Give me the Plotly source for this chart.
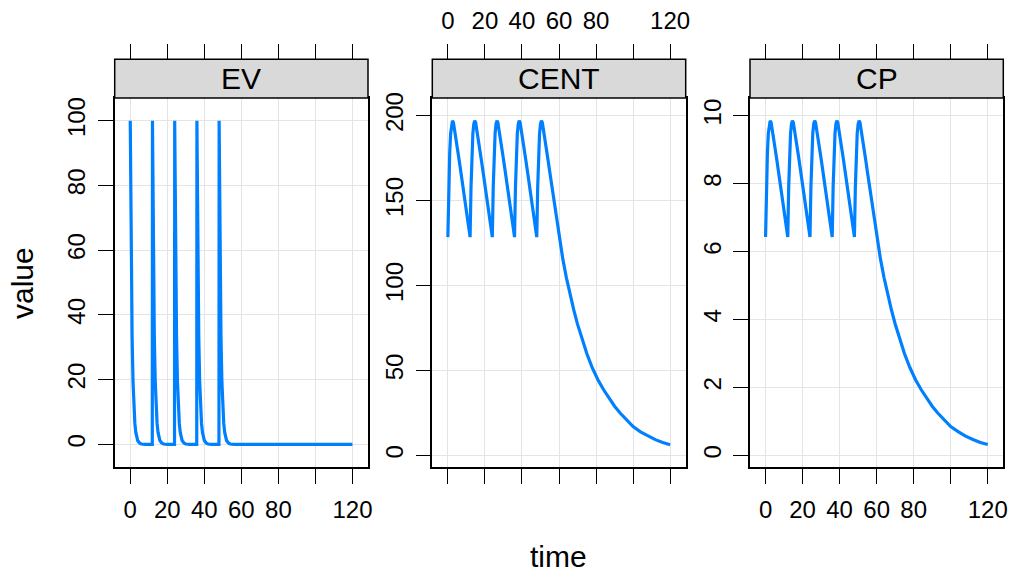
import plotly.graph_objects as go

# ---------------- data ----------------
panels = ["EV", "CENT", "CP"]

ev_time = [
    0, 0.5, 1, 1.5, 2, 2.5, 3, 4, 5, 6, 8, 11.9,
    12, 12.5, 13, 13.5, 14, 14.5, 15, 16, 17, 18, 20, 23.9,
    24, 24.5, 25, 25.5, 26, 26.5, 27, 28, 29, 30, 32, 35.9,
    36, 36.5, 37, 37.5, 38, 38.5, 39, 40, 41, 42, 44, 47.9,
    48, 48.5, 49, 49.5, 50, 50.5, 51, 52, 53, 54, 56, 60, 80, 100, 120,
]
ev_value = [
    100, 57.7, 33.3, 19.2, 11.1, 6.4, 3.7, 1.2, 0.4, 0.1, 0, 0,
    100, 57.7, 33.3, 19.2, 11.1, 6.4, 3.7, 1.2, 0.4, 0.1, 0, 0,
    100, 57.7, 33.3, 19.2, 11.1, 6.4, 3.7, 1.2, 0.4, 0.1, 0, 0,
    100, 57.7, 33.3, 19.2, 11.1, 6.4, 3.7, 1.2, 0.4, 0.1, 0, 0,
    100, 57.7, 33.3, 19.2, 11.1, 6.4, 3.7, 1.2, 0.4, 0.1, 0, 0, 0, 0, 0,
]

cent_time = [
    0, 0.5, 1, 1.5, 2, 2.5, 3, 4, 5, 6, 7, 8, 9, 10, 11,
    12, 12.5, 13, 13.5, 14, 14.5, 15, 16, 17, 18, 19, 20, 21, 22, 23,
    24, 24.5, 25, 25.5, 26, 26.5, 27, 28, 29, 30, 31, 32, 33, 34, 35,
    36, 36.5, 37, 37.5, 38, 38.5, 39, 40, 41, 42, 43, 44, 45, 46, 47,
    48, 48.5, 49, 49.5, 50, 50.5, 51, 52, 53, 54, 55, 56, 57, 58, 59,
    60, 61, 62, 64, 66, 68, 70, 72, 75, 78, 81, 84, 87, 90, 93, 96,
    100, 104, 108, 112, 116, 120,
]
cent_value = [
    128.5, 158, 178, 189.5, 195, 197, 196, 189.5, 182, 174.5, 167, 159.5, 152, 144.5, 136.5,
    128.5, 158, 178, 189.5, 195, 197, 196, 189.5, 182, 174.5, 167, 159.5, 152, 144.5, 136.5,
    128.5, 158, 178, 189.5, 195, 197, 196, 189.5, 182, 174.5, 167, 159.5, 152, 144.5, 136.5,
    128.5, 158, 178, 189.5, 195, 197, 196, 189.5, 182, 174.5, 167, 159.5, 152, 144.5, 136.5,
    128.5, 158, 178, 189.5, 195, 197, 196, 189.5, 182, 174.5, 167, 159.5, 152, 144.5, 136.5,
    128.5, 122, 116, 104.5, 94.5, 85.5, 77.3, 70, 60, 51.5, 44.6, 38.8, 33.5, 29, 25, 21.3,
    17, 13.9, 11.4, 9.3, 7.6, 6.3,
]

cp_time = cent_time
cp_value = [
    6.43, 7.9, 8.9, 9.48, 9.75, 9.85, 9.8, 9.48, 9.1, 8.73, 8.35, 7.98, 7.6, 7.23, 6.83,
    6.43, 7.9, 8.9, 9.48, 9.75, 9.85, 9.8, 9.48, 9.1, 8.73, 8.35, 7.98, 7.6, 7.23, 6.83,
    6.43, 7.9, 8.9, 9.48, 9.75, 9.85, 9.8, 9.48, 9.1, 8.73, 8.35, 7.98, 7.6, 7.23, 6.83,
    6.43, 7.9, 8.9, 9.48, 9.75, 9.85, 9.8, 9.48, 9.1, 8.73, 8.35, 7.98, 7.6, 7.23, 6.83,
    6.43, 7.9, 8.9, 9.48, 9.75, 9.85, 9.8, 9.48, 9.1, 8.73, 8.35, 7.98, 7.6, 7.23, 6.83,
    6.43, 6.1, 5.8, 5.23, 4.73, 4.28, 3.87, 3.5, 3.0, 2.58, 2.23, 1.94, 1.68, 1.45, 1.25, 1.07,
    0.85, 0.7, 0.57, 0.47, 0.38, 0.32,
]

x_tickvals = [0, 20, 40, 60, 80, 100, 120]
x_ticktext = ["0", "20", "40", "60", "80", "", "120"]
y_ticks = [
    [0, 20, 40, 60, 80, 100],
    [0, 50, 100, 150, 200],
    [0, 2, 4, 6, 8, 10],
]
y_ranges = [[-7, 107], [-6.8, 210.4], [-0.34, 10.52]]
x_range = [-8.4, 128.4]

# ---------------- layout geometry ----------------
W, H = 1011, 575
px = lambda v: v / W
py = lambda v: 1 - v / H
x_domains = [[px(114.7), px(368.0)], [px(432.3), px(685.7)], [px(750.0), px(1003.3)]]
plot_top, plot_bot, strip_top = 98.0, 467.0, 59.3
y_domain = [py(plot_bot), py(plot_top)]

FONT = "Liberation Sans, Arial, Helvetica, sans-serif"
LINE_COL = "#0080ff"
GRID_COL = "#e4e4e4"
TICK_FS = 24
BIG_FS = 30

fig = go.Figure()
series = [(ev_time, ev_value), (cent_time, cent_value), (cp_time, cp_value)]
for i, (t, v) in enumerate(series):
    k = "" if i == 0 else str(i + 1)
    fig.add_trace(go.Scatter(
        x=t, y=v, mode="lines", xaxis="x" + k, yaxis="y" + k,
        line=dict(color=LINE_COL, width=3.2), showlegend=False, hoverinfo="skip",
    ))
    # same series, transparent, bound to the top (strip) axis so that it is drawn
    fig.add_trace(go.Scatter(
        x=t, y=v, mode="lines", xaxis="x" + str(i + 4), yaxis="y" + k,
        line=dict(color=LINE_COL, width=3.2), opacity=0, showlegend=False, hoverinfo="skip",
    ))

layout = dict(
    template="none",
    width=W, height=H, margin=dict(l=0, r=0, t=0, b=0, pad=0),
    paper_bgcolor="white", plot_bgcolor="white",
    font=dict(family=FONT, size=TICK_FS, color="black"),
    showlegend=False,
)

for i in range(3):
    k = "" if i == 0 else str(i + 1)
    layout["xaxis" + k] = dict(
        domain=x_domains[i], anchor="y" + k, range=x_range, automargin=False,
        tickmode="array", tickvals=x_tickvals, ticktext=x_ticktext,
        showticklabels=(i != 1),
        ticks="outside", ticklen=15, tickwidth=1.3, tickcolor="black",
        ticklabelstandoff=5,
        showline=True, mirror=True, linecolor="black", linewidth=1.5,
        showgrid=True, gridcolor=GRID_COL, gridwidth=1.2, zeroline=False,
        tickfont=dict(size=TICK_FS, family=FONT, color="black"),
    )
    layout["yaxis" + k] = dict(
        domain=y_domain, anchor="x" + k, range=y_ranges[i], automargin=False,
        tickmode="array", tickvals=y_ticks[i],
        ticks="outside", ticklen=15, tickwidth=1.3, tickcolor="black",
        tickangle=-90, ticklabelstandoff=3,
        showline=True, mirror=True, linecolor="black", linewidth=1.5,
        showgrid=True, gridcolor=GRID_COL, gridwidth=1.2, zeroline=False,
        tickfont=dict(size=TICK_FS, family=FONT, color="black"),
    )
    # ticks above the strip
    layout["xaxis" + str(i + 4)] = dict(
        domain=x_domains[i], overlaying="x" + k, anchor="free", position=py(strip_top),
        side="top", range=x_range, automargin=False,
        tickmode="array", tickvals=x_tickvals, ticktext=x_ticktext,
        showticklabels=(i == 1),
        ticks="outside", ticklen=15, tickwidth=1.3, tickcolor="black",
        ticklabelstandoff=6,
        showline=False, showgrid=False, zeroline=False,
        tickfont=dict(size=TICK_FS, family=FONT, color="black"),
    )

fig.update_layout(**layout)

shapes = []
annotations = []
for i, name in enumerate(panels):
    x0, x1 = x_domains[i]
    shapes.append(dict(
        type="rect", xref="paper", yref="paper",
        x0=x0, x1=x1, y0=py(plot_top), y1=py(strip_top),
        fillcolor="#d9d9d9", line=dict(color="black", width=1.5), layer="above",
    ))
    annotations.append(dict(
        text=name, xref="paper", yref="paper", x=(x0 + x1) / 2,
        y=(py(plot_top) + py(strip_top)) / 2, showarrow=False,
        xanchor="center", yanchor="middle",
        font=dict(size=BIG_FS, family=FONT, color="black"),
    ))

annotations.append(dict(
    text="value", xref="paper", yref="paper", x=px(22), y=py(283),
    showarrow=False, textangle=-90, xanchor="center", yanchor="middle",
    font=dict(size=BIG_FS, family=FONT, color="black"),
))
annotations.append(dict(
    text="time", xref="paper", yref="paper", x=px(558), y=0,
    showarrow=False, xanchor="center", yanchor="bottom",
    font=dict(size=BIG_FS, family=FONT, color="black"),
))
fig.update_layout(shapes=shapes, annotations=annotations)

fig.write_html(
    "out.html",
    config={"displayModeBar": False},
    post_script="document.body.style.margin='0';document.body.style.padding='0';",
)
